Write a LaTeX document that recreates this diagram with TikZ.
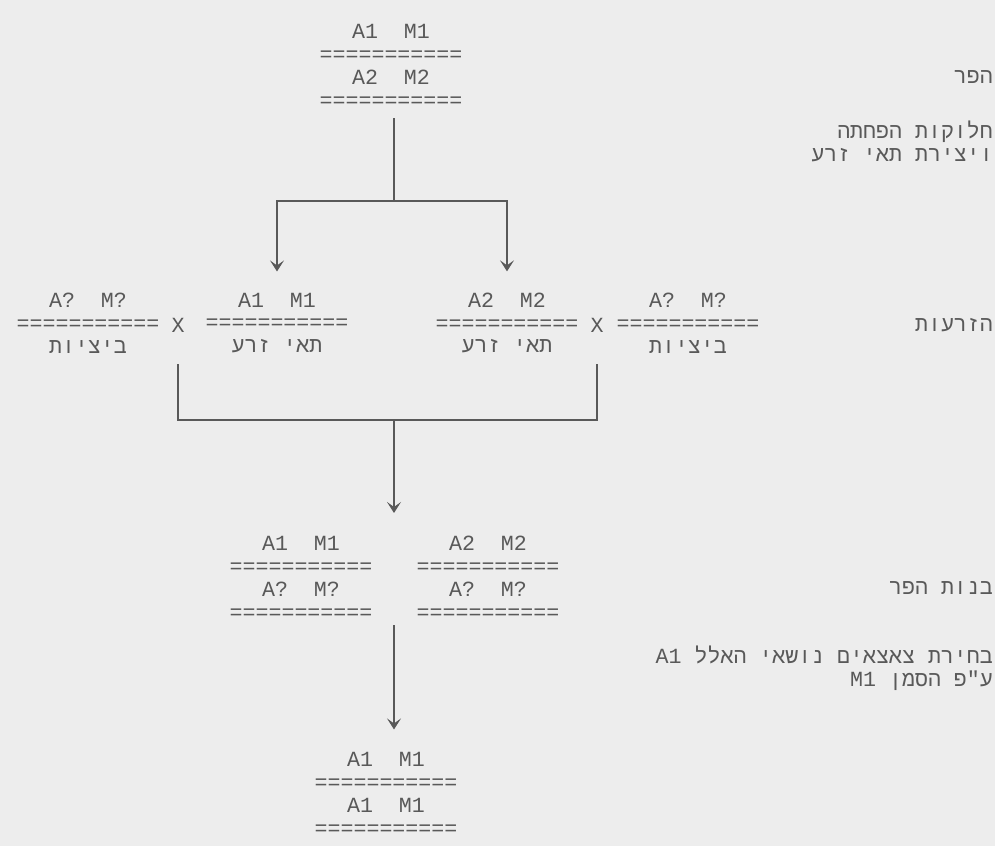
\documentclass[tikz,border=0pt]{standalone}
\usepackage{fontspec}
\setmonofont{Liberation Mono}
\newfontfamily\hebfont[Script=Hebrew]{Liberation Mono}
\usetikzlibrary{arrows.meta,positioning,fit}
\TeXXeTstate=1
\definecolor{ink}{gray}{0.35}
\definecolor{paper}{gray}{0.93}
\newcommand{\heb}[1]{{\hebfont\beginR #1\endR}}
\begin{document}
\begin{tikzpicture}[
  x=0.02cm,y=-0.02cm,
  every node/.style={font=\ttfamily\fontsize{12.3}{13}\selectfont,text=ink,inner sep=1pt},
  geno/.style={align=center},
  note/.style={anchor=east,align=right},
  line/.style={draw=ink,line width=0.6pt},
  arr/.style={line,-{Stealth[length=2.2mm,width=2.8mm,inset=1mm]}}
]
\useasboundingbox[fill=paper] (0,0) rectangle (995,846);
% sire and meiosis
\node[geno] (sire) at (391,66) {A1~~M1\\===========\\A2~~M2\\===========};
\coordinate (split) at (394,201);
\node[geno] (spermL) at (277,323) {A1~~M1\\===========\\\heb{תאי זרע}};
\node[geno] (spermR) at (507,323) {A2~~M2\\===========\\\heb{תאי זרע}};
\draw[line,shorten <=5pt] (split |- sire.south) -- (split);
\draw[arr,shorten >=11pt] (split) -| (spermL.north);
\draw[arr,shorten >=11pt] (split) -| (spermR.north);
% inseminations
\node[geno] (eggL) at (88,323) {A?~~M?\\===========\\\heb{ביציות}};
\node[geno] (eggR) at (688,323) {A?~~M?\\===========\\\heb{ביציות}};
\node (crossL) at (178,325) {X};
\node (crossR) at (597,325) {X};
\coordinate (joinL) at (178,364);
\coordinate (joinR) at (597,364);
\coordinate (merge) at (394,420);
\draw[line] (joinL) |- (merge) -| (joinR);
% daughters
\node[geno] (daughterL) at (301,578) {A1~~M1\\===========\\A?~~M?\\===========};
\node[geno] (daughterR) at (488,578) {A2~~M2\\===========\\A?~~M?\\===========};
\node[fit=(daughterL)(daughterR),inner sep=0pt] (daughters) {};
\draw[arr,shorten >=12pt] (merge) -- (merge |- daughters.north);
% selected offspring
\node[geno] (chosen) at (386,794) {A1~~M1\\===========\\A1~~M1\\===========};
\draw[arr,shorten <=2pt,shorten >=12pt] (merge |- daughters.south) -- (merge |- chosen.north);
% notes on the right
\node[note] (noteSire) at (995,77) {\heb{הפר}};
\node[note] (noteMeiosis) at (995,141) {\heb{חלוקות הפחתה}\\\heb{ויצירת תאי זרע}};
\node[note] (noteInsem) at (995,325) {\heb{הזרעות}};
\node[note] (noteDaughters) at (995,588) {\heb{בנות הפר}};
\node[note] (noteSelect) at (995,668) {\heb{בחירת צאצאים נושאי האלל \beginL A1\endL}\\\heb{ע"פ הסמן \beginL M1\endL}};
\end{tikzpicture}
\end{document}
